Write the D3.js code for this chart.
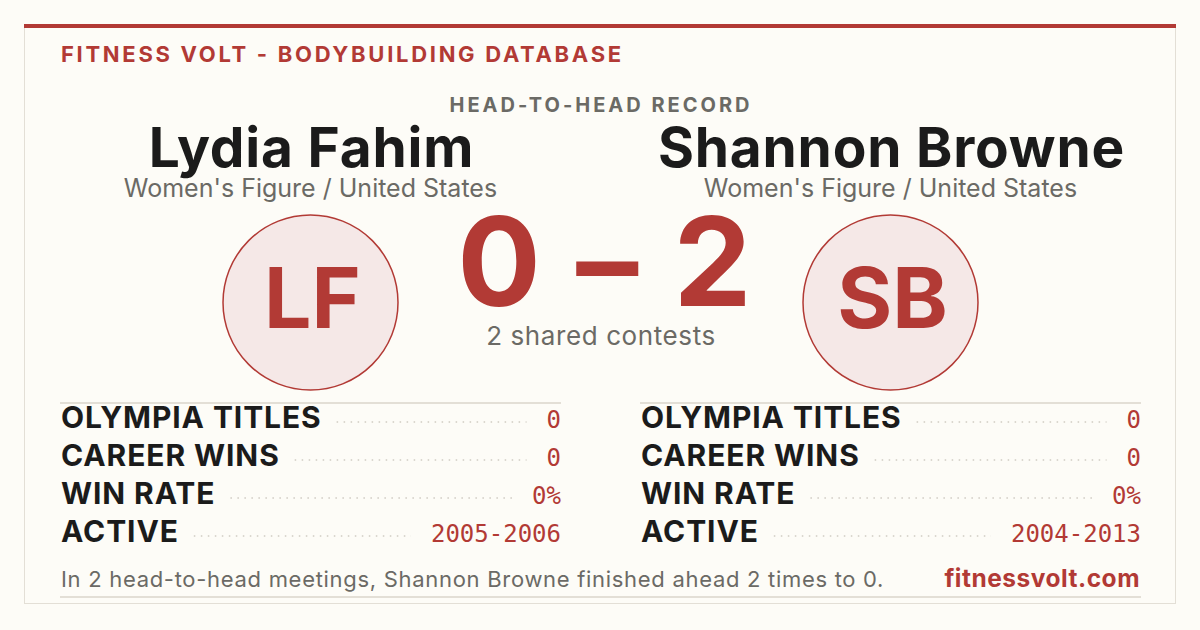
<!DOCTYPE html>
<html>
<head>
<meta charset="utf-8">
<script src="https://cdn.jsdelivr.net/npm/d3@7"></script>
<style>
  html, body { margin: 0; padding: 0; background: #fdfcf7; }
  svg { display: block; }
</style>
</head>
<body>
<svg id="card" width="1200" height="630"></svg>
<script>
// data
const athletes = ["Lydia Fahim", "Shannon Browne"];
const divisions = ["Women's Figure / United States", "Women's Figure / United States"];
const initials = ["LF", "SB"];
const score = [0, 2];
const sharedContests = 2;
const statLabels = ["OLYMPIA TITLES", "CAREER WINS", "WIN RATE", "ACTIVE"];
const statsA = ["0", "0", "0%", "2005-2006"];
const statsB = ["0", "0", "0%", "2004-2013"];

const red = "#b23a35";
const ink = "#1b1b1b";
const grey = "#6b6a65";
const rule = "#e3dfd6";
const sans = "Inter, 'DejaVu Sans', sans-serif";
const mono = "'DejaVu Sans Mono', 'Liberation Mono', monospace";

const svg = d3.select("#card");

// card frame
svg.append("rect").attr("x", 24.5).attr("y", 24.5).attr("width", 1151).attr("height", 579)
  .attr("fill", "#fdfcf7").attr("stroke", rule).attr("stroke-width", 1);
svg.append("rect").attr("x", 24).attr("y", 24).attr("width", 1152).attr("height", 4).attr("fill", red);

svg.append("text").attr("x", 61).attr("y", 62)
  .text("FITNESS VOLT - BODYBUILDING DATABASE")
  .style("font-family", sans).style("font-weight", 700).style("font-size", "22px")
  .style("letter-spacing", "2.7px").attr("fill", red);

svg.append("text").attr("x", 601).attr("y", 112).attr("text-anchor", "middle")
  .text("HEAD-TO-HEAD RECORD")
  .style("font-family", sans).style("font-weight", 700).style("font-size", "20px")
  .style("letter-spacing", "3px").attr("fill", grey);

// two columns
const x = d3.scaleLinear().domain([0, 1]).range([60, 640]);
const colW = 501;
const cx = i => x(i) + colW / 2;

const cols = svg.selectAll("g.col").data(athletes).join("g").attr("class", "col");

cols.append("text").attr("x", (d, i) => cx(i) + 1).attr("y", 167).attr("text-anchor", "middle")
  .text(d => d)
  .style("font-family", sans).style("font-weight", 700).style("font-size", "55px")
  .style("letter-spacing", "0.8px").attr("fill", ink);

cols.append("text").attr("x", (d, i) => cx(i)).attr("y", 197).attr("text-anchor", "middle")
  .text((d, i) => divisions[i])
  .style("font-family", sans).style("font-size", "25px").attr("fill", grey);

cols.append("circle").attr("cx", (d, i) => cx(i)).attr("cy", 302.5).attr("r", 87.5)
  .attr("fill", "#f5e8e7").attr("stroke", red).attr("stroke-width", 1.5);

cols.append("text").attr("x", (d, i) => cx(i) + 2).attr("y", 328).attr("text-anchor", "middle")
  .text((d, i) => initials[i])
  .style("font-family", sans).style("font-weight", 700).style("font-size", "84px").attr("fill", red);

// score
svg.append("text").attr("x", 606).attr("y", 306).attr("text-anchor", "middle")
  .text(`${score[0]} \u2013 ${score[1]}`)
  .style("font-family", sans).style("font-weight", 700).style("font-size", "124px")
  .style("letter-spacing", "3px").attr("fill", red);

svg.append("text").attr("x", 601).attr("y", 345).attr("text-anchor", "middle")
  .text(`${sharedContests} shared contests`)
  .style("font-family", sans).style("font-size", "26px")
  .style("letter-spacing", "0.6px").attr("fill", grey);

// stat tables
const y = d3.scalePoint().domain(statLabels).range([428, 542]);

[statsA, statsB].forEach((vals, i) => {
  const g = svg.append("g");
  g.append("line").attr("x1", x(i)).attr("x2", x(i) + colW).attr("y1", 403).attr("y2", 403)
    .attr("stroke", rule).attr("stroke-width", 2);

  const rows = g.selectAll("g.row").data(statLabels).join("g").attr("class", "row")
    .attr("transform", d => `translate(0,${y(d)})`);

  const lab = rows.append("text").attr("x", x(i) + 1)
    .text(d => d)
    .style("font-family", sans).style("font-weight", 700).style("font-size", "30px")
    .style("letter-spacing", "0.9px").attr("fill", ink);

  const val = rows.append("text").attr("x", x(i) + colW).attr("text-anchor", "end")
    .text((d, j) => vals[j])
    .style("font-family", mono).style("font-size", "24px").attr("fill", red);

  rows.each(function(d, j) {
    const lw = lab.nodes()[j].getComputedTextLength();
    const vw = val.nodes()[j].getComputedTextLength();
    d3.select(this).insert("line", "text")
      .attr("x1", x(i) + 1 + lw + 15).attr("x2", x(i) + colW - vw - 20)
      .attr("y1", -6).attr("y2", -6)
      .attr("stroke", "#cfcbc2").attr("stroke-width", 1.5)
      .attr("stroke-dasharray", "1.5,5.5");
  });
});

// footer
svg.append("text").attr("x", 61).attr("y", 587)
  .text(`In ${sharedContests} head-to-head meetings, ${athletes[1]} finished ahead ${score[1]} times to ${score[0]}.`)
  .style("font-family", sans).style("font-size", "22px")
  .style("letter-spacing", "0.7px").attr("fill", grey);

svg.append("text").attr("x", 1140).attr("y", 587).attr("text-anchor", "end")
  .text("fitnessvolt.com")
  .style("font-family", sans).style("font-weight", 700).style("font-size", "24.5px")
  .style("letter-spacing", "0.5px").attr("fill", red);

svg.append("line").attr("x1", 60).attr("x2", 1141).attr("y1", 597).attr("y2", 597)
  .attr("stroke", rule).attr("stroke-width", 2);
</script>
</body>
</html>
